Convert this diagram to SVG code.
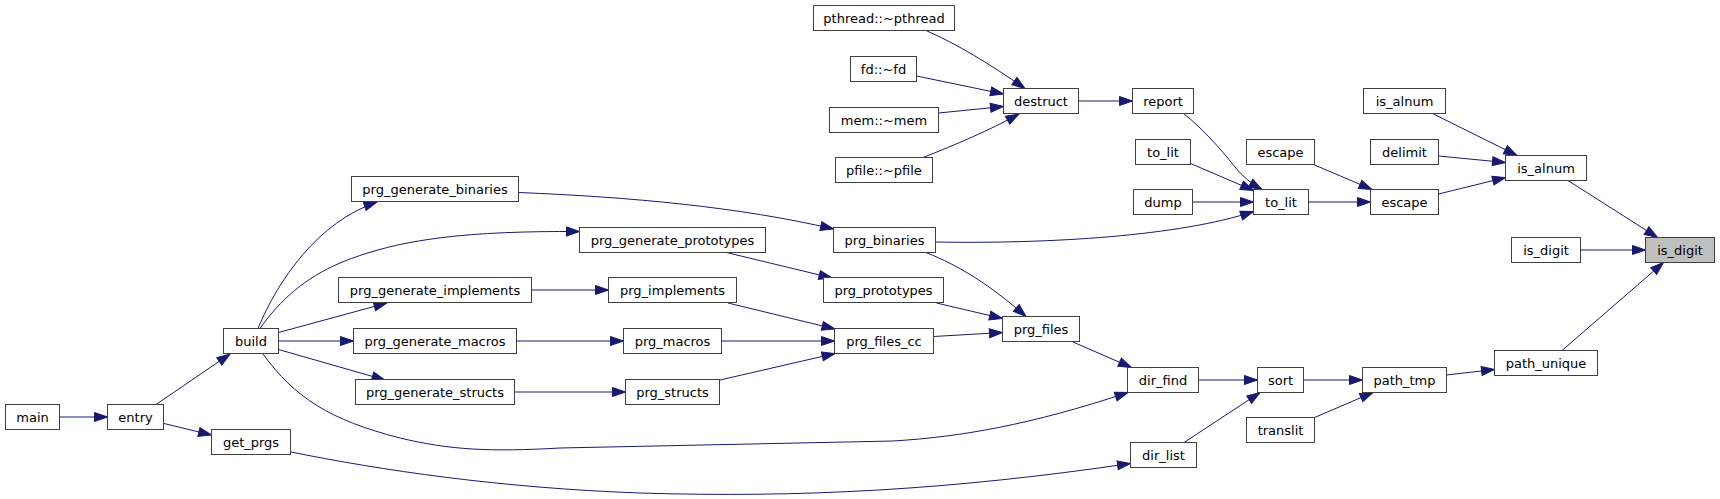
<svg xmlns="http://www.w3.org/2000/svg" width="1720" height="499" viewBox="0 0 1720 499">
<style>
.n rect{fill:#ffffff;stroke:#404040;stroke-width:1}
.n.root rect{fill:#bfbfbf;stroke:#404040}
.n text{font-family:"DejaVu Sans","Liberation Sans",sans-serif;font-size:13px;fill:#000000;text-anchor:middle}
.e path{fill:none;stroke:#191970;stroke-width:1;marker-end:url(#ah)}
</style>
<defs>
<marker id="ah" markerWidth="14" markerHeight="10" refX="13" refY="4.5" orient="auto" markerUnits="userSpaceOnUse" overflow="visible">
<path d="M0,0 L13,4.5 L0,9 z" fill="#191970" stroke="#191970" stroke-width="1"/>
</marker>
</defs>
<rect x="0" y="0" width="1720" height="499" fill="#ffffff"/>
<g id="edges" class="e">
<path d="M60,417 L107.5,417"/>
<path d="M156,404.5 L230,354"/>
<path d="M164,423.5 L211.5,435"/>
<path d="M258,328.5 C278,280 318,222 377,202"/>
<path d="M260,328.5 C280,300 305,278 340,263 C400,238 470,231 579.5,231.5"/>
<path d="M278.5,332.5 L387,303"/>
<path d="M278.5,341 L353.5,341"/>
<path d="M278.5,349.5 L385,380"/>
<path d="M263,354 C295,398 330,420 400,438 C450,450 490,452 560,448 L893,441 C960,437 1030,425 1128,392.5"/>
<path d="M291,452 C380,470 500,488 640,493 C800,498 950,490 1130.5,463.5"/>
<path d="M518.5,192.5 C630,197 740,207 833.5,229"/>
<path d="M726.5,252.5 L832,278"/>
<path d="M531.5,290 L608.5,290"/>
<path d="M516.5,341 L623.5,341"/>
<path d="M514.5,392 L625.5,392"/>
<path d="M728,303 L835,329"/>
<path d="M721.5,341 L834.5,341"/>
<path d="M720,380 L835,353.5"/>
<path d="M936.5,303 L1002.5,318.5"/>
<path d="M926,252.5 C960,266 990,285 1026,316.5"/>
<path d="M933.5,336.5 L1002.5,332.5"/>
<path d="M1073,342 L1131.5,367.5"/>
<path d="M935.5,242 C1050,244 1180,236 1253.5,211.5"/>
<path d="M927,31 C955,43 990,64 1025,88.5"/>
<path d="M916.5,76 L1003.5,94"/>
<path d="M938.5,113 L1003.5,106.5"/>
<path d="M923,157.5 C955,145 990,130 1019,114"/>
<path d="M1078.5,101 L1132.5,101"/>
<path d="M1184,114 C1200,126 1220,148 1235,167 C1243,177 1252,184 1262,189.5"/>
<path d="M1190.5,163.5 L1253.5,190.5"/>
<path d="M1192.5,202 L1253.5,202"/>
<path d="M1313.5,164.5 L1372,189.5"/>
<path d="M1308.5,202 L1370.5,202"/>
<path d="M1433.5,114 L1517,155.5"/>
<path d="M1438.5,156 L1505.5,162.5"/>
<path d="M1438.5,194 L1505.5,177.5"/>
<path d="M1568,180.5 L1657.5,237.5"/>
<path d="M1580.5,250 L1645.5,250"/>
<path d="M1562,350.5 L1663.5,262.5"/>
<path d="M1198.5,380 L1257.5,380"/>
<path d="M1184,442.5 L1260,392.5"/>
<path d="M1303.5,380 L1362.5,380"/>
<path d="M1314.5,417.5 L1373,392.5"/>
<path d="M1446.5,375 L1494.5,369.5"/>
</g>
<g id="n_main" class="n"><rect x="5.5" y="404.5" width="54" height="25"/><text x="32.5" y="421.5">main</text></g>
<g id="n_entry" class="n"><rect x="107.5" y="404.5" width="56" height="25"/><text x="135.5" y="421.5">entry</text></g>
<g id="n_get_prgs" class="n"><rect x="211.5" y="429.5" width="79" height="25"/><text x="251" y="446.5">get_prgs</text></g>
<g id="n_build" class="n"><rect x="223.5" y="328.5" width="55" height="25"/><text x="251" y="345.5">build</text></g>
<g id="n_prg_generate_binaries" class="n"><rect x="351.5" y="176.5" width="167" height="25"/><text x="435" y="193.5">prg_generate_binaries</text></g>
<g id="n_prg_generate_prototypes" class="n"><rect x="579.5" y="227.5" width="186" height="25"/><text x="672.5" y="244.5">prg_generate_prototypes</text></g>
<g id="n_prg_generate_implements" class="n"><rect x="338.5" y="277.5" width="193" height="25"/><text x="435" y="294.5">prg_generate_implements</text></g>
<g id="n_prg_generate_macros" class="n"><rect x="353.5" y="328.5" width="163" height="25"/><text x="435" y="345.5">prg_generate_macros</text></g>
<g id="n_prg_generate_structs" class="n"><rect x="355.5" y="379.5" width="159" height="25"/><text x="435" y="396.5">prg_generate_structs</text></g>
<g id="n_prg_binaries" class="n"><rect x="833.5" y="227.5" width="102" height="25"/><text x="884.5" y="244.5">prg_binaries</text></g>
<g id="n_prg_prototypes" class="n"><rect x="823.5" y="277.5" width="120" height="25"/><text x="883.5" y="294.5">prg_prototypes</text></g>
<g id="n_prg_implements" class="n"><rect x="608.5" y="277.5" width="128" height="25"/><text x="672.5" y="294.5">prg_implements</text></g>
<g id="n_prg_macros" class="n"><rect x="623.5" y="328.5" width="98" height="25"/><text x="672.5" y="345.5">prg_macros</text></g>
<g id="n_prg_structs" class="n"><rect x="625.5" y="379.5" width="94" height="25"/><text x="672.5" y="396.5">prg_structs</text></g>
<g id="n_prg_files_cc" class="n"><rect x="834.5" y="328.5" width="99" height="25"/><text x="884" y="345.5">prg_files_cc</text></g>
<g id="n_prg_files" class="n"><rect x="1002.5" y="316.5" width="77" height="25"/><text x="1041" y="333.5">prg_files</text></g>
<g id="n_pthread" class="n"><rect x="813.5" y="5.5" width="141" height="25"/><text x="884" y="22.5">pthread::~pthread</text></g>
<g id="n_fd" class="n"><rect x="850.5" y="56.5" width="66" height="25"/><text x="883.5" y="73.5">fd::~fd</text></g>
<g id="n_mem" class="n"><rect x="829.5" y="107.5" width="109" height="25"/><text x="884" y="124.5">mem::~mem</text></g>
<g id="n_pfile" class="n"><rect x="835.5" y="157.5" width="97" height="25"/><text x="884" y="174.5">pfile::~pfile</text></g>
<g id="n_destruct" class="n"><rect x="1003.5" y="88.5" width="75" height="25"/><text x="1041" y="105.5">destruct</text></g>
<g id="n_report" class="n"><rect x="1132.5" y="88.5" width="61" height="25"/><text x="1163" y="105.5">report</text></g>
<g id="n_to_lit_a" class="n"><rect x="1135.5" y="139.5" width="55" height="25"/><text x="1163" y="156.5">to_lit</text></g>
<g id="n_dump" class="n"><rect x="1133.5" y="189.5" width="59" height="25"/><text x="1163" y="206.5">dump</text></g>
<g id="n_to_lit" class="n"><rect x="1253.5" y="189.5" width="55" height="25"/><text x="1281" y="206.5">to_lit</text></g>
<g id="n_escape_a" class="n"><rect x="1246.5" y="139.5" width="68" height="25"/><text x="1280.5" y="156.5">escape</text></g>
<g id="n_escape" class="n"><rect x="1370.5" y="189.5" width="68" height="25"/><text x="1404.5" y="206.5">escape</text></g>
<g id="n_is_alnum_a" class="n"><rect x="1363.5" y="88.5" width="82" height="25"/><text x="1404.5" y="105.5">is_alnum</text></g>
<g id="n_delimit" class="n"><rect x="1370.5" y="139.5" width="68" height="25"/><text x="1404.5" y="156.5">delimit</text></g>
<g id="n_is_alnum" class="n"><rect x="1505.5" y="155.5" width="81" height="25"/><text x="1546" y="172.5">is_alnum</text></g>
<g id="n_is_digit_a" class="n"><rect x="1511.5" y="237.5" width="69" height="25"/><text x="1546" y="254.5">is_digit</text></g>
<g id="n_is_digit" class="n root"><rect x="1645.5" y="237.5" width="69" height="25"/><text x="1680" y="254.5">is_digit</text></g>
<g id="n_path_unique" class="n"><rect x="1494.5" y="350.5" width="103" height="25"/><text x="1546" y="367.5">path_unique</text></g>
<g id="n_dir_find" class="n"><rect x="1127.5" y="367.5" width="71" height="25"/><text x="1163" y="384.5">dir_find</text></g>
<g id="n_sort" class="n"><rect x="1257.5" y="367.5" width="46" height="25"/><text x="1280.5" y="384.5">sort</text></g>
<g id="n_path_tmp" class="n"><rect x="1362.5" y="367.5" width="84" height="25"/><text x="1404.5" y="384.5">path_tmp</text></g>
<g id="n_translit" class="n"><rect x="1246.5" y="417.5" width="68" height="25"/><text x="1280.5" y="434.5">translit</text></g>
<g id="n_dir_list" class="n"><rect x="1130.5" y="442.5" width="66" height="25"/><text x="1163.5" y="459.5">dir_list</text></g>
</svg>
